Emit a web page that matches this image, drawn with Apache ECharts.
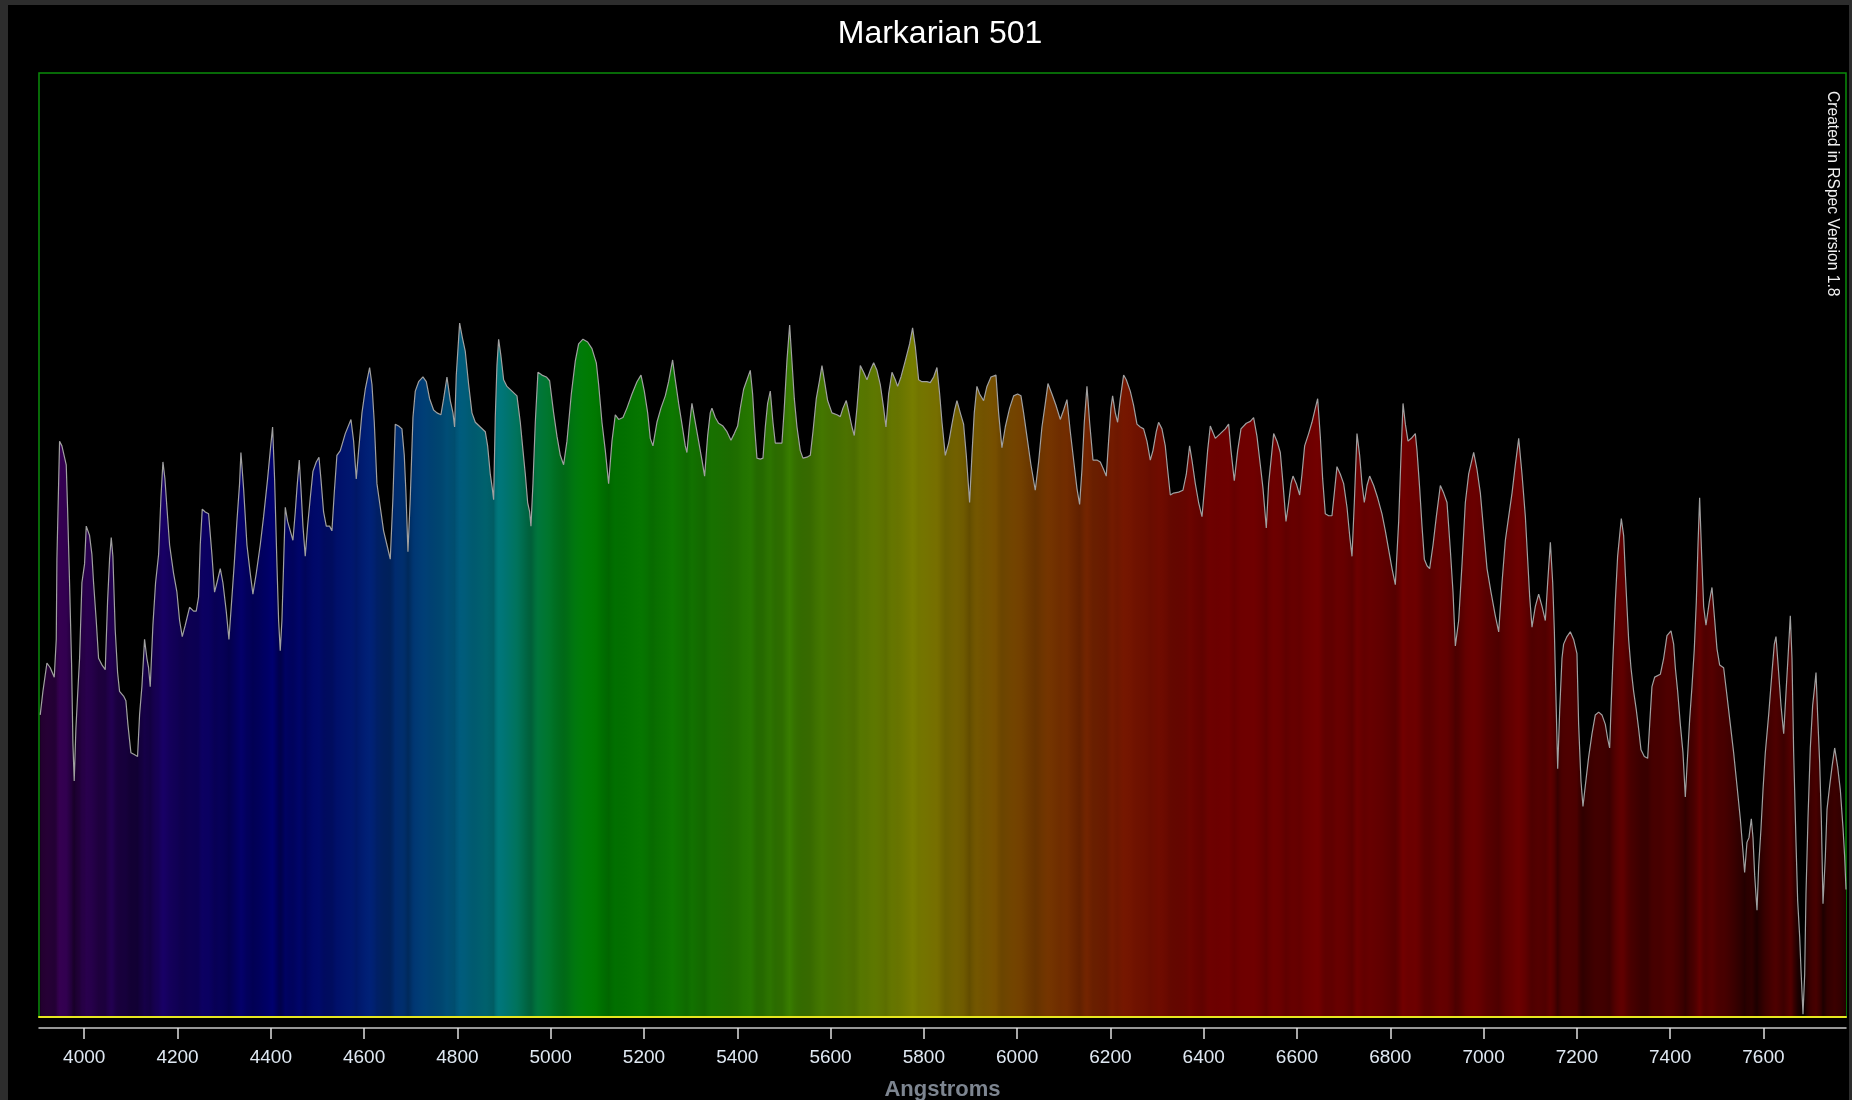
<!DOCTYPE html>
<html>
<head>
<meta charset="utf-8">
<title>Markarian 501</title>
<script src="https://cdn.jsdelivr.net/npm/echarts@6/dist/echarts.min.js"></script>
<style>
  html, body { margin: 0; padding: 0; width: 1852px; height: 1100px; overflow: hidden; background: #2d2d2d; }
  #chart { position: absolute; left: 8px; top: 5px; width: 1841px; height: 1095px; background: #000; }
</style>
</head>
<body>
<div id="chart"></div>
<script>
// wavelength in Angstroms, relative flux
const wavelength = [
  3905.6, 3911.4, 3920.0, 3927.1, 3935.7, 3940.0, 3941.4, 3947.1, 3952.1, 3961.4, 3964.2, 3968.5, 3972.8, 3975.7, 3978.5, 3982.1, 3985.7, 3990.0, 3995.0,
  4000.7, 4004.3, 4011.4, 4016.4, 4020.0, 4025.7, 4030.7, 4037.9, 4045.0, 4050.0, 4054.3, 4057.9, 4061.4, 4066.4, 4071.5, 4075.7, 4084.3, 4089.3, 4093.6,
  4100.0, 4107.2, 4114.3, 4118.6, 4123.6, 4129.3, 4134.3, 4137.9, 4141.5, 4147.2, 4152.9, 4159.4, 4164.4, 4168.7, 4173.0, 4177.2, 4183.0, 4191.5, 4198.7,
  4204.4, 4210.1, 4216.5, 4225.8, 4234.4, 4240.1, 4245.1, 4248.7, 4253.0, 4259.4, 4266.6, 4273.7, 4279.4, 4284.5, 4291.6, 4297.3, 4304.4, 4310.2, 4315.2,
  4321.6, 4327.3, 4333.0, 4335.9, 4341.6, 4348.8, 4355.9, 4361.6, 4368.8, 4377.3, 4384.5, 4393.1, 4398.8, 4403.8, 4408.1, 4413.1, 4416.7, 4420.2, 4423.8,
  4427.4, 4431.0, 4436.0, 4441.7, 4447.4, 4452.4, 4456.0, 4461.0, 4464.6, 4468.9, 4473.8, 4478.8, 4484.6, 4490.3, 4497.4, 4503.2, 4507.4, 4513.1, 4518.9,
  4526.0, 4531.0, 4536.0, 4541.7,
  4548.9, 4559.6, 4571.8, 4577.5, 4583.2, 4588.2, 4595.4, 4602.5, 4611.8, 4616.8, 4621.8, 4627.5, 4634.7, 4641.8, 4649.0, 4656.1, 4661.8, 4666.8, 4674.0,
  4681.1, 4686.1, 4689.7, 4694.0, 4699.0, 4704.7, 4709.7, 4716.9, 4726.1, 4733.3, 4740.4, 4749.0, 4756.2, 4764.7, 4770.5, 4777.6, 4784.7, 4790.5, 4794.0,
  4797.6, 4804.8, 4810.5, 4816.9, 4824.1, 4831.2, 4838.4, 4849.1, 4859.8, 4864.8, 4870.5, 4874.8, 4877.7, 4881.2, 4884.8, 4888.4, 4893.4, 4899.1, 4906.3,
  4917.0, 4927.7, 4934.8, 4940.6, 4945.6, 4950.6, 4954.9, 4957.7, 4962.0, 4967.0, 4972.7, 4981.3, 4990.6, 4997.7, 5006.3, 5013.5, 5020.6, 5027.7, 5034.9,
  5044.2, 5052.8, 5059.9, 5069.2, 5079.2, 5088.5, 5097.8, 5102.8, 5109.9, 5117.1, 5124.2, 5131.4, 5138.5, 5145.7, 5155.0, 5163.5, 5174.3, 5185.0, 5193.6,
  5200.7, 5207.9,
  5213.5, 5219.2, 5227.8, 5236.4, 5245.7, 5252.8, 5261.4, 5267.1, 5274.3, 5281.4, 5288.5, 5292.1, 5297.1, 5302.8, 5310.0, 5317.1, 5324.3, 5330.0, 5336.4,
  5342.1, 5345.7, 5352.9, 5360.0, 5369.3, 5377.9, 5386.5, 5393.6, 5400.8, 5406.5, 5413.6, 5420.8, 5427.9, 5432.9, 5437.2, 5442.2, 5449.4, 5455.1, 5460.1,
  5465.1, 5470.8, 5476.5, 5481.5, 5488.7, 5495.8, 5500.8, 5506.5, 5512.3, 5517.2, 5522.3, 5528.0, 5535.1, 5540.8, 5549.4, 5556.6, 5562.3, 5569.4, 5576.6,
  5581.6, 5586.6, 5593.7, 5603.0, 5613.7, 5620.9, 5626.6, 5633.7, 5639.5, 5645.9, 5650.9, 5656.6, 5663.8, 5670.9, 5678.1, 5685.2, 5692.4, 5699.5, 5706.6,
  5713.8, 5718.8, 5724.5, 5731.7, 5738.8, 5743.8, 5751.0, 5760.2, 5769.5, 5775.9, 5781.7, 5788.8, 5796.0, 5806.7, 5813.8, 5821.0, 5828.1, 5833.9, 5838.9,
  5846.0, 5853.2, 5860.3, 5866.0, 5871.0,
  5878.1, 5885.2, 5891.0, 5898.1, 5903.1, 5908.1, 5913.8, 5919.6, 5928.1, 5935.3, 5943.9, 5954.6, 5960.3, 5967.4, 5974.6, 5983.9, 5992.5, 6001.0, 6008.2,
  6013.9, 6021.0, 6029.6, 6038.9, 6046.1, 6053.2, 6060.4, 6066.1, 6074.6, 6083.2, 6092.5, 6099.7, 6106.8, 6114.0, 6121.1, 6128.2, 6134.0, 6139.0, 6144.0,
  6149.7, 6155.4, 6162.6, 6171.1, 6178.3, 6185.4, 6191.1, 6196.1, 6201.1, 6204.7, 6210.4, 6215.4, 6221.2, 6228.3, 6234.0, 6242.6, 6249.7, 6256.9, 6264.0,
  6271.2, 6278.3, 6285.5, 6291.2, 6298.3, 6303.3, 6310.5, 6317.6, 6322.6, 6328.4, 6335.5, 6346.2, 6355.5, 6362.7, 6369.8, 6374.8, 6382.0, 6389.1, 6396.3,
  6403.4, 6408.4, 6414.1, 6424.8, 6435.6, 6446.3, 6453.4, 6458.5, 6465.6, 6472.8, 6479.9, 6491.3, 6499.9, 6507.0, 6514.2, 6521.3, 6527.1, 6534.2, 6539.2,
  6546.4, 6550.0, 6557.1, 6564.2, 6570.0, 6576.4, 6582.1, 6587.1, 6591.4, 6598.5, 6605.7, 6610.7, 6616.4, 6625.0, 6632.1, 6639.3, 6644.3, 6650.0, 6655.0,
  6660.7, 6667.9, 6675.0, 6680.0, 6685.7, 6692.9, 6700.0, 6707.2, 6712.9, 6717.9, 6722.9, 6728.6, 6734.3, 6739.3, 6744.3, 6750.1, 6755.8, 6764.4, 6772.9,
  6782.2, 6789.4, 6796.5, 6803.7, 6810.8, 6818.0, 6823.0, 6827.3, 6832.3, 6838.0, 6845.1, 6853.7, 6857.3, 6863.0, 6868.0, 6873.0, 6878.7, 6884.4, 6891.6,
  6898.7, 6907.3, 6914.5, 6921.6, 6928.7, 6934.5, 6939.5, 6946.6, 6953.8, 6960.9, 6968.0, 6978.8, 6985.9, 6993.1, 7000.2, 7007.4, 7015.9, 7025.2, 7032.4,
  7039.5, 7046.7, 7053.8, 7061.0, 7068.1, 7075.3, 7082.4, 7089.6, 7094.5, 7098.9, 7103.8, 7111.0, 7118.1, 7125.3, 7132.4, 7137.4, 7143.2, 7148.2, 7151.7,
  7154.6, 7158.9, 7163.2,
  7168.1, 7171.6, 7178.8, 7185.9, 7193.1, 7200.2, 7203.8, 7208.8, 7213.1, 7218.1, 7225.2, 7232.4, 7239.5, 7246.7, 7253.8, 7261.0, 7266.0, 7270.3, 7273.1,
  7277.4, 7282.4, 7287.4, 7291.7, 7295.3, 7300.3, 7303.9, 7307.4, 7311.0, 7316.0, 7321.7, 7327.5, 7332.5, 7337.5, 7344.6, 7351.8, 7356.1, 7361.0, 7366.8,
  7378.9, 7386.1, 7393.2, 7401.8, 7407.5, 7411.1, 7416.1, 7421.8, 7427.5, 7432.5, 7436.1, 7441.8, 7446.8, 7451.8, 7456.1, 7459.7, 7463.2, 7467.5, 7471.8,
  7476.8, 7484.0, 7489.7, 7494.7, 7500.4, 7506.1, 7514.7, 7521.9, 7529.0, 7536.1, 7543.3, 7550.4, 7556.2, 7559.7, 7564.7, 7569.0, 7574.0, 7577.6, 7581.2,
  7586.2, 7589.8, 7594.8, 7599.0, 7604.0, 7611.2, 7618.3, 7623.3, 7626.9, 7632.6, 7637.6, 7643.4, 7649.1, 7652.6, 7657.6, 7661.2, 7664.8, 7669.8, 7673.4,
  7677.7, 7680.5, 7684.8, 7688.4, 7691.2, 7695.5, 7700.5, 7705.5, 7709.8, 7712.7, 7716.2, 7720.5, 7724.1, 7727.7, 7732.7, 7736.3, 7742.0, 7747.0, 7752.7,
  7759.1, 7764.9, 7770.6, 7774.1, 7777.0
];
const flux = [
  0.320, 0.345, 0.375, 0.370, 0.360, 0.400, 0.485, 0.610, 0.605, 0.585, 0.540, 0.460, 0.375, 0.290, 0.250, 0.305, 0.340, 0.380, 0.460,
  0.480, 0.520, 0.510, 0.490, 0.460, 0.420, 0.380, 0.373, 0.368, 0.440, 0.485, 0.508, 0.488, 0.410, 0.365, 0.345, 0.340, 0.335, 0.310,
  0.280, 0.278, 0.276, 0.320, 0.350, 0.400, 0.380, 0.370, 0.350, 0.415, 0.460, 0.490, 0.550, 0.588, 0.570, 0.540, 0.500, 0.470, 0.450,
  0.420, 0.403, 0.415, 0.434, 0.430, 0.430, 0.445, 0.500, 0.538, 0.535, 0.533, 0.490, 0.450, 0.460, 0.475, 0.460, 0.430, 0.400, 0.435,
  0.480, 0.525, 0.565, 0.598, 0.560, 0.500, 0.470, 0.448, 0.470, 0.500, 0.530, 0.570, 0.600, 0.625, 0.570, 0.480, 0.420, 0.388, 0.420,
  0.480, 0.540, 0.525, 0.515, 0.505, 0.535, 0.560, 0.590, 0.560, 0.520, 0.488, 0.520, 0.550, 0.578, 0.588, 0.593, 0.570, 0.535, 0.520,
  0.520, 0.515, 0.555, 0.595,
  0.600, 0.618, 0.633, 0.610, 0.570, 0.600, 0.640, 0.665, 0.688, 0.670, 0.630, 0.565, 0.540, 0.515, 0.500, 0.485, 0.550, 0.628, 0.626,
  0.623, 0.595, 0.555, 0.493, 0.550, 0.635, 0.663, 0.673, 0.678, 0.673, 0.655, 0.643, 0.640, 0.638, 0.655, 0.678, 0.653, 0.640, 0.625,
  0.680, 0.735, 0.720, 0.705, 0.670, 0.640, 0.630, 0.625, 0.620, 0.605, 0.575, 0.560, 0.548, 0.635, 0.690, 0.718, 0.700, 0.675, 0.668,
  0.663, 0.658, 0.630, 0.600, 0.575, 0.545, 0.535, 0.520, 0.565, 0.630, 0.683, 0.680, 0.678, 0.674, 0.640, 0.615, 0.595, 0.585, 0.610,
  0.660, 0.695, 0.713, 0.718, 0.715, 0.708, 0.693, 0.670, 0.630, 0.600, 0.565, 0.610, 0.638, 0.633, 0.635, 0.645, 0.660, 0.673, 0.680,
  0.663, 0.640,
  0.613, 0.605, 0.630, 0.645, 0.658, 0.673, 0.696, 0.675, 0.650, 0.628, 0.605, 0.598, 0.625, 0.650, 0.630, 0.610, 0.590, 0.573, 0.615,
  0.640, 0.645, 0.635, 0.629, 0.626, 0.620, 0.611, 0.618, 0.626, 0.645, 0.665, 0.675, 0.685, 0.660, 0.625, 0.592, 0.591, 0.592, 0.625,
  0.650, 0.663, 0.630, 0.608, 0.608, 0.608, 0.645, 0.695, 0.733, 0.695, 0.655, 0.625, 0.600, 0.592, 0.593, 0.595, 0.620, 0.655, 0.675,
  0.690, 0.675, 0.653, 0.640, 0.638, 0.636, 0.645, 0.653, 0.640, 0.625, 0.616, 0.645, 0.690, 0.683, 0.675, 0.685, 0.693, 0.685, 0.670,
  0.645, 0.625, 0.660, 0.683, 0.675, 0.668, 0.678, 0.695, 0.713, 0.730, 0.710, 0.675, 0.673, 0.673, 0.672, 0.678, 0.688, 0.660, 0.630,
  0.595, 0.608, 0.628, 0.643, 0.653,
  0.640, 0.628, 0.595, 0.545, 0.595, 0.640, 0.668, 0.660, 0.653, 0.668, 0.678, 0.680, 0.640, 0.603, 0.625, 0.645, 0.658, 0.660, 0.658,
  0.640, 0.615, 0.585, 0.558, 0.588, 0.625, 0.650, 0.671, 0.660, 0.648, 0.633, 0.643, 0.654, 0.620, 0.590, 0.560, 0.543, 0.580, 0.630,
  0.668, 0.630, 0.590, 0.590, 0.588, 0.580, 0.573, 0.610, 0.645, 0.658, 0.640, 0.630, 0.655, 0.680, 0.675, 0.663, 0.648, 0.628, 0.625,
  0.623, 0.610, 0.590, 0.600, 0.620, 0.630, 0.623, 0.605, 0.580, 0.553, 0.555, 0.556, 0.558, 0.575, 0.605, 0.590, 0.565, 0.545, 0.530,
  0.570, 0.600, 0.626, 0.613, 0.618, 0.623, 0.628, 0.600, 0.568, 0.600, 0.623, 0.629, 0.631, 0.635, 0.615, 0.585, 0.560, 0.518, 0.565,
  0.600, 0.618, 0.610, 0.598, 0.565, 0.525, 0.545, 0.565, 0.573, 0.565, 0.553, 0.575, 0.605, 0.618, 0.630, 0.645, 0.655, 0.615, 0.570,
  0.533, 0.531, 0.531, 0.555, 0.583, 0.575, 0.565, 0.540, 0.510, 0.488, 0.545, 0.618, 0.595, 0.565, 0.545, 0.563, 0.573, 0.563, 0.550,
  0.533, 0.515, 0.495, 0.475, 0.458, 0.525, 0.595, 0.650, 0.628, 0.610, 0.613, 0.618, 0.600, 0.560, 0.520, 0.485, 0.478, 0.475, 0.500,
  0.530, 0.563, 0.555, 0.545, 0.495, 0.450, 0.393, 0.420, 0.480, 0.545, 0.575, 0.598, 0.580, 0.555, 0.515, 0.475, 0.450, 0.425, 0.408,
  0.460, 0.505, 0.530, 0.555, 0.585, 0.613, 0.575, 0.530, 0.485, 0.445, 0.413, 0.435, 0.448, 0.435, 0.420, 0.460, 0.503, 0.460, 0.410,
  0.350, 0.263, 0.325,
  0.380, 0.395, 0.403, 0.408, 0.400, 0.385, 0.310, 0.250, 0.223, 0.245, 0.275, 0.300, 0.320, 0.323, 0.320, 0.310, 0.295, 0.285, 0.325,
  0.380, 0.440, 0.488, 0.510, 0.528, 0.510, 0.470, 0.435, 0.400, 0.370, 0.345, 0.325, 0.305, 0.283, 0.276, 0.274, 0.310, 0.350, 0.360,
  0.363, 0.380, 0.404, 0.409, 0.395, 0.370, 0.345, 0.310, 0.280, 0.233, 0.265, 0.315, 0.350, 0.390, 0.440, 0.500, 0.550, 0.490, 0.435,
  0.415, 0.440, 0.455, 0.425, 0.390, 0.373, 0.370, 0.340, 0.310, 0.280, 0.245, 0.210, 0.175, 0.153, 0.185, 0.190, 0.210, 0.190, 0.150,
  0.113, 0.160, 0.200, 0.240, 0.280, 0.320, 0.365, 0.395, 0.403, 0.365, 0.330, 0.300, 0.350, 0.380, 0.425, 0.380, 0.280, 0.185, 0.123,
  0.085, 0.050, 0.003, 0.045, 0.130, 0.210, 0.285, 0.330, 0.350, 0.365, 0.320, 0.270, 0.210, 0.120, 0.170, 0.220, 0.245, 0.265, 0.285,
  0.265, 0.240, 0.200, 0.170, 0.135
];
const tickValues = [4000, 4200, 4400, 4600, 4800, 5000, 5200, 5400, 5600, 5800, 6000, 6200, 6400, 6600, 6800, 7000, 7200, 7400, 7600];

// colour of the light at wavelength w (Angstrom), dimmed by the flux
function spectrumColor(w, v) {
  const l = w / 10;
  let r = 0, g = 0, b = 0;
  if (l < 440) { r = (440 - l) / 60; b = 1; }
  else if (l < 490) { g = (l - 440) / 50; b = 1; }
  else if (l < 510) { g = 1; b = (510 - l) / 20; }
  else if (l < 580) { r = (l - 510) / 70; g = 1; }
  else if (l < 645) { r = 1; g = (645 - l) / 65; }
  else { r = 1; }
  let f = 1;
  if (l < 420) f = 0.6 + 0.4 * (l - 380) / 40;
  const k = 0.5 * f * Math.pow(Math.max(v, 0) / 0.75, 0.8);
  const c = x => Math.min(255, Math.round(255 * k * Math.pow(x, 1.5)));
  return 'rgb(' + c(r) + ',' + c(g) + ',' + c(b) + ')';
}

const first = wavelength[0];
const last = wavelength[wavelength.length - 1];
const stops = wavelength.map((w, i) => ({
  offset: (w - first) / (last - first),
  color: spectrumColor(w, flux[i])
}));

const chart = echarts.init(document.getElementById('chart'));
const option = {
  backgroundColor: '#000',
  animation: false,
  grid: {
    left: 31, right: 3, top: 68, bottom: 83, outerBoundsMode: 'none',
    show: true, borderColor: '#0a8c0a', borderWidth: 1.5, backgroundColor: 'transparent'
  },
  graphic: [
    {
      type: 'text', x: 932, y: 29,
      style: { text: 'Markarian 501', fill: '#fff', font: '32px "Liberation Sans", Arial, sans-serif', textAlign: 'center', textVerticalAlign: 'middle' }
    },
    {
      type: 'text', x: 1824, y: 86, rotation: -Math.PI / 2,
      style: { text: 'Created in RSpec Version 1.8', fill: '#f0f0f0', font: '15.6px "Liberation Sans", Arial, sans-serif', textAlign: 'left', textVerticalAlign: 'middle' }
    }
  ],
  xAxis: [
    {
      type: 'value', min: 3903, max: 7777, z: 5,
      axisLine: { show: true, lineStyle: { color: '#e6e61e', width: 2 } },
      axisTick: { show: false }, axisLabel: { show: false }, splitLine: { show: false }
    },
    {
      type: 'value', min: 3903, max: 7777, position: 'bottom', offset: 11,
      axisLine: { show: true, lineStyle: { color: '#c8c8c8', width: 1.5 } },
      axisTick: { show: true, length: 11, customValues: tickValues, lineStyle: { color: '#e0e0e0', width: 1.5 } },
      axisLabel: {
        customValues: tickValues, formatter: v => String(v),
        color: '#dfe8f2', fontSize: 19, margin: 20, fontFamily: 'Liberation Sans'
      },
      splitLine: { show: false },
      name: 'Angstroms', nameLocation: 'middle', nameGap: 51,
      nameTextStyle: { color: '#7d8590', fontSize: 22, fontWeight: 'bold', fontFamily: 'Liberation Sans' }
    }
  ],
  yAxis: { type: 'value', min: 0, max: 1, show: false },
  series: [{
    type: 'line',
    xAxisIndex: 0,
    data: wavelength.map((w, i) => [w, flux[i]]),
    showSymbol: false,
    lineStyle: { color: '#a0a0a0', width: 1.2 },
    areaStyle: { opacity: 1, color: new echarts.graphic.LinearGradient(0, 0, 1, 0, stops) }
  }]
};
chart.setOption(option);
</script>
</body>
</html>
